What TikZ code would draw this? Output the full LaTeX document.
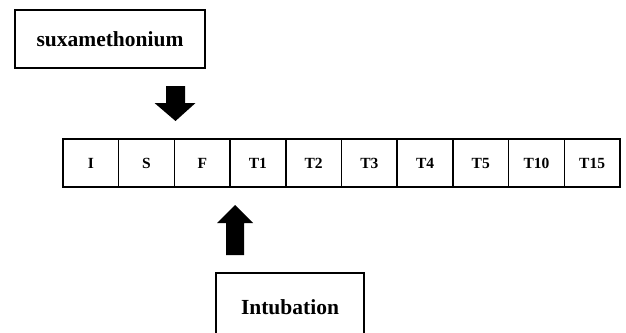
\documentclass[tikz,border=0pt]{standalone}
\usepackage{fontspec}
\setmainfont{Liberation Serif}
\begin{document}
\begin{tikzpicture}[x=1pt, y=-1pt, line join=miter,
	labelbox/.style={draw, line width=1.5pt, inner sep=0pt, font=\fontsize{21.5}{24}\selectfont\bfseries},
	cell/.style={draw, line width=1.5pt, inner sep=0pt, minimum width=55.7pt, minimum height=48pt, font=\fontsize{15.5}{18}\selectfont\bfseries}]
	\def\cellw{55.7}
	\def\xstart{63}
	\useasboundingbox (0,0) rectangle (626,332);
	\clip (0,0) rectangle (626,332);
	% drug given
	\node[labelbox, minimum width=190pt, minimum height=58pt] (sux) at (110,39) {suxamethonium};
	% time points
	\foreach \lab [count=\i] in {I,S,F,T1,T2,T3,T4,T5,T10,T15}
		\node[cell] (c\i) at ({\xstart+(\i-0.5)*\cellw},163) {\lab};
	% block arrows
	\fill (166,86) -- (185,86) -- (185,103) -- (195.5,103) -- (175.5,121) -- (154.5,103) -- (166,103) -- cycle;
	\fill (226,255) -- (244,255) -- (244,223) -- (253,223) -- (235,205) -- (217,223) -- (226,223) -- cycle;
	\node[labelbox, minimum width=148pt, minimum height=68pt] (intub) at (290,307) {Intubation};
\end{tikzpicture}
\end{document}
